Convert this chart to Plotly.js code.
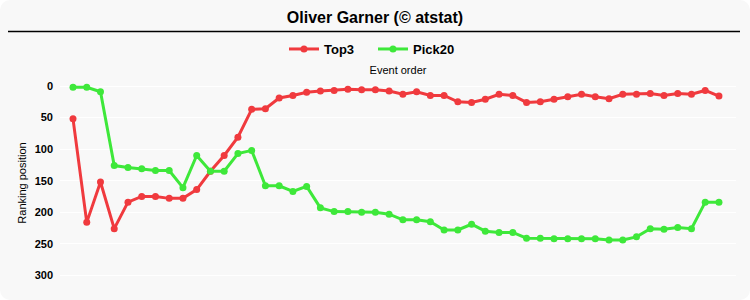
<!DOCTYPE html>
<html>
<head>
<meta charset="utf-8">
<script src="https://cdn.plot.ly/plotly-3.0.1.min.js"></script>
<style>
  html, body { margin: 0; padding: 0; background: #ffffff; }
  #chart { width: 750px; height: 300px; background: #f8f8f8; border-radius: 10px; overflow: hidden; }
</style>
</head>
<body>
<div id="chart"></div>
<script>
const eventOrder = Array.from({length: 48}, (_, i) => i + 1);
const top3 = [52, 216, 152, 226, 184, 175, 175, 178, 178, 164, 135, 110, 81, 37, 36, 19, 15, 10, 8, 7, 5, 6, 6, 8, 13, 9, 15, 15, 25, 26, 21, 13, 15, 26, 25, 21, 17, 13, 17, 20, 13, 13, 12, 15, 12, 13, 7, 16];
const pick20 = [2, 2, 9, 126, 129, 131, 134, 134, 161, 110, 135, 135, 107, 102, 158, 158, 167, 159, 193, 199, 199, 200, 200, 203, 212, 212, 215, 228, 228, 219, 230, 232, 232, 241, 241, 242, 242, 242, 242, 244, 244, 239, 226, 227, 224, 226, 184, 184];
const yTicks = [0, 50, 100, 150, 200, 250, 300];

const traces = [
  {
    x: eventOrder, y: top3, name: 'Top3', type: 'scatter', mode: 'lines+markers',
    line: {color: '#f03a3e', width: 3}, marker: {color: '#f03a3e', size: 7}
  },
  {
    x: eventOrder, y: pick20, name: 'Pick20', type: 'scatter', mode: 'lines+markers',
    line: {color: '#3ee83a', width: 3}, marker: {color: '#3ee83a', size: 7}
  }
];

const layout = {
  width: 750, height: 300,
  margin: {l: 60, r: 14, t: 78, b: 12},
  paper_bgcolor: 'rgba(0,0,0,0)',
  plot_bgcolor: 'rgba(0,0,0,0)',
  font: {family: '"Liberation Sans", Arial, sans-serif', color: '#000'},
  title: {
    text: 'Oliver Garner (© atstat)',
    font: {size: 16, weight: 'bold', color: '#000'},
    x: 0.5, xanchor: 'center', y: 1 - 17/300, yanchor: 'middle'
  },
  showlegend: true,
  legend: {
    orientation: 'h', x: 0.463, xanchor: 'center', y: 1.138, yanchor: 'middle',
    font: {size: 13, weight: 'bold'}, bgcolor: 'rgba(0,0,0,0)',
    entrywidth: 44, entrywidthmode: 'pixels'
  },
  xaxis: {
    side: 'top', range: [0.054, 49.24],
    showticklabels: false, ticks: '', showgrid: false, zeroline: false, showline: false,
    title: {text: 'Event order', font: {size: 11}, standoff: 0}
  },
  yaxis: {
    range: [320, -12.7], tickvals: yTicks, ticktext: yTicks.map(String),
    tickfont: {size: 11, weight: 'bold'}, ticks: '', ticklabelstandoff: 6,
    showgrid: true, gridcolor: '#ffffff', gridwidth: 1, zeroline: false, showline: false,
    title: {text: 'Ranking position', font: {size: 11}, standoff: 5}
  },
  shapes: [
    {type: 'line', xref: 'paper', yref: 'paper',
     x0: (8 - 60) / 676, x1: (740 - 60) / 676, y0: (288 - 31.5) / 210, y1: (288 - 31.5) / 210,
     line: {color: '#000', width: 1.5}}
  ]
};

Plotly.newPlot('chart', traces, layout, {displayModeBar: false, staticPlot: true});
</script>
</body>
</html>
